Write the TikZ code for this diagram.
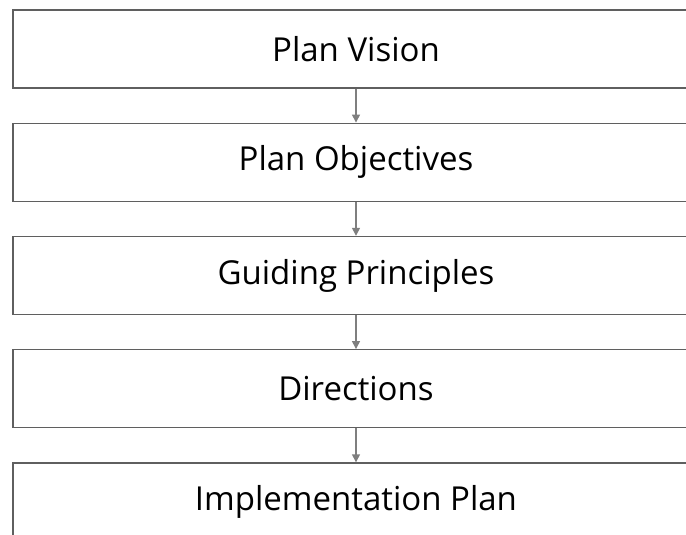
\documentclass[tikz,border=0pt]{standalone}
\usepackage{fontspec}
\setmainfont{Open Sans}[Ligatures=NoCommon]
\usetikzlibrary{arrows.meta}
\definecolor{boxline}{HTML}{5F5F5F}
\definecolor{arrowgrey}{HTML}{7F7F7F}
\tikzset{
  stagebox/.style={draw=boxline, line width=1.4pt, fill=white, minimum width=686pt, minimum height=78pt, inner sep=0pt, font=\fontsize{33pt}{38pt}\selectfont, text=black},
  flowarrow/.style={draw=arrowgrey, line width=1.4pt, -{Triangle[length=8pt,width=8pt]}}
}
\begin{document}
\begin{tikzpicture}[x=1pt,y=-1pt]
\useasboundingbox (0,0) rectangle (686,535);
\clip (0,0) rectangle (686,535);
\node[stagebox] (a) at (356,49) {Plan Vision};
\node[stagebox] (b) at (356,162.25) {Plan Objectives};
\node[stagebox] (c) at (356,275.5) {Guiding Principles};
\node[stagebox] (d) at (356,388.75) {Directions};
\node[stagebox] (e) at (356,502) {Implementation Plan};
\draw[flowarrow] (a.south) -- (b.north);
\draw[flowarrow] (b.south) -- (c.north);
\draw[flowarrow] (c.south) -- (d.north);
\draw[flowarrow] (d.south) -- (e.north);
\end{tikzpicture}
\end{document}
